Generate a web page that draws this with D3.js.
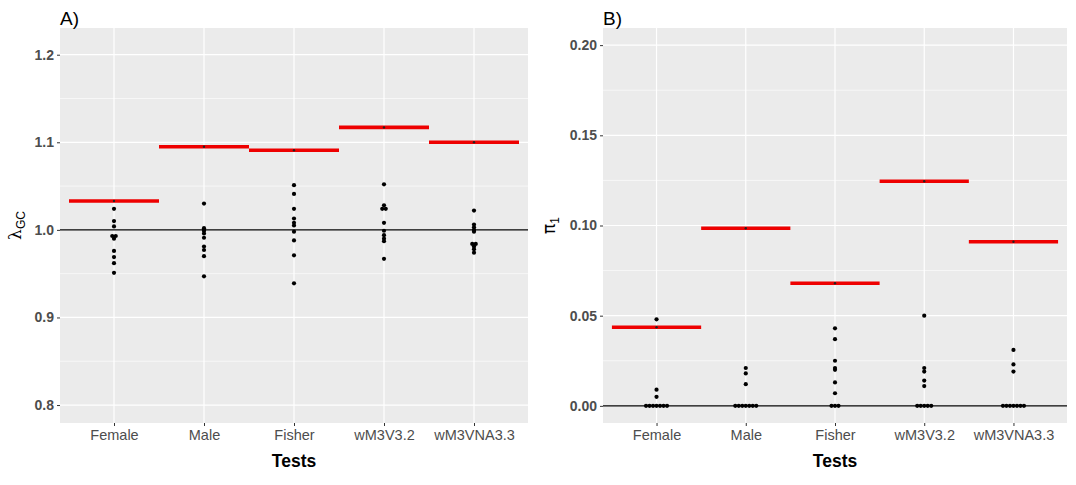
<!DOCTYPE html>
<html>
<head>
<meta charset="utf-8">
<script src="https://cdn.jsdelivr.net/npm/d3@7"></script>
<style>
  body { margin: 0; background: #fff; }
  text { font-family: "Liberation Sans", Arial, sans-serif; }
</style>
</head>
<body>
<svg id="chart" width="1076" height="485"></svg>
<script>
tests = ["Female", "Male", "Fisher", "wM3V3.2", "wM3VNA3.3"]

// lambda GC per test (one dot per run)
lambdaFemale = [1.024, 1.010, 1.004, 0.993, 0.993, 0.990, 0.976, 0.969, 0.962, 0.951]
lambdaMale = [1.030, 1.002, 0.999, 0.996, 0.991, 0.981, 0.977, 0.970, 0.947, 1.000]
lambdaFisher = [1.051, 1.041, 1.024, 1.013, 1.008, 1.005, 0.998, 0.988, 0.971, 0.939]
lambdaV32 = [1.052, 1.028, 1.024, 1.024, 1.008, 0.999, 0.994, 0.990, 0.987, 0.967]
lambdaVNA33 = [1.022, 1.006, 1.003, 1.000, 0.998, 0.984, 0.984, 0.981, 0.978, 0.974]
lambdaValues = [lambdaFemale, lambdaMale, lambdaFisher, lambdaV32, lambdaVNA33]
lambdaOverall = [1.033, 1.095, 1.091, 1.117, 1.100]

// pi1 per test
pi1Female = [0.048, 0.009, 0.005, 0, 0, 0, 0, 0, 0, 0]
pi1Male = [0.021, 0.018, 0.012, 0, 0, 0, 0, 0, 0, 0]
pi1Fisher = [0.043, 0.037, 0.025, 0.021, 0.020, 0.013, 0.007, 0, 0, 0]
pi1V32 = [0.050, 0.021, 0.019, 0.014, 0.011, 0, 0, 0, 0, 0]
pi1VNA33 = [0.031, 0.023, 0.019, 0, 0, 0, 0, 0, 0, 0]
pi1Values = [pi1Female, pi1Male, pi1Fisher, pi1V32, pi1VNA33]
pi1Overall = [0.0436, 0.0985, 0.068, 0.1245, 0.091]

lambdaTicks = [0.8, 0.9, 1.0, 1.1, 1.2]
lambdaMinor = [0.85, 0.95, 1.05, 1.15]
pi1Ticks = [0, 0.05, 0.10, 0.15, 0.20]
pi1Minor = [0.025, 0.075, 0.125, 0.175]

const svg = d3.select("#chart")

function draw_panel(opts) {
    const left = opts.left, right = opts.right, top = 28, bottom = 423
    const g = svg.append("g")

    // band of 1 unit per test, 0.6 unit padding each side like ggplot
    const x = d3.scalePoint().domain(tests).range([left, right]).padding(0.6)
    const step = x.step()
    const y = d3.scaleLinear().domain(opts.domain).range([bottom, top])

    g.append("rect")
        .attr("x", left).attr("y", top)
        .attr("width", right - left).attr("height", bottom - top)
        .attr("fill", "#ebebeb")

    g.selectAll(".minor").data(opts.minor).join("line")
        .attr("x1", left).attr("x2", right)
        .attr("y1", d => y(d)).attr("y2", d => y(d))
        .attr("stroke", "#fff").attr("stroke-width", 0.6)

    g.selectAll(".major").data(opts.ticks).join("line")
        .attr("x1", left).attr("x2", right)
        .attr("y1", d => y(d)).attr("y2", d => y(d))
        .attr("stroke", "#fff").attr("stroke-width", 1.2)

    g.selectAll(".vmajor").data(tests).join("line")
        .attr("x1", d => x(d)).attr("x2", d => x(d))
        .attr("y1", top).attr("y2", bottom)
        .attr("stroke", "#fff").attr("stroke-width", 1.2)

    // reference line
    g.append("line")
        .attr("x1", left).attr("x2", right)
        .attr("y1", y(opts.refLine)).attr("y2", y(opts.refLine))
        .attr("stroke", "#000").attr("stroke-width", 1.1)

    // overall value as red bar
    g.selectAll(".overall").data(tests).join("line")
        .attr("x1", d => x(d) - step / 2).attr("x2", d => x(d) + step / 2)
        .attr("y1", (d, i) => y(opts.overall[i])).attr("y2", (d, i) => y(opts.overall[i]))
        .attr("stroke", "#ee0000").attr("stroke-width", 3.6)
    g.selectAll(".overallpt").data(tests).join("circle")
        .attr("cx", d => x(d))
        .attr("cy", (d, i) => y(opts.overall[i]))
        .attr("r", 1.2).attr("fill", "#222")

    // dots, equal values stacked side by side (centered)
    let dots = []
    opts.values.forEach(function (vals, i) {
        const groups = d3.group(vals, v => v)
        for (const [v, arr] of groups) {
            arr.forEach(function (a, k) {
                dots.push({ test: tests[i], value: v, offset: (k - (arr.length - 1) / 2) * 3.5 })
            })
        }
    })
    g.selectAll(".dot").data(dots).join("circle")
        .attr("cx", d => x(d.test) + d.offset)
        .attr("cy", d => y(d.value))
        .attr("r", 2.1)
        .attr("fill", "#000")

    // axes
    const yAxis = g.append("g")
        .attr("transform", "translate(" + left + ",0)")
        .call(d3.axisLeft(y).tickValues(opts.ticks).tickFormat(opts.format).tickSize(3).tickPadding(3))
    yAxis.select(".domain").remove()
    yAxis.selectAll("line").attr("stroke", "#333")
    yAxis.selectAll("text").attr("fill", "#4d4d4d").attr("font-size", 14).attr("font-weight", "bold")
        .attr("font-family", "Liberation Sans, Arial, sans-serif")

    const xAxis = g.append("g")
        .attr("transform", "translate(0," + bottom + ")")
        .call(d3.axisBottom(x).tickSize(3).tickPadding(4))
    xAxis.select(".domain").remove()
    xAxis.selectAll("line").attr("stroke", "#333")
    xAxis.selectAll("text").attr("fill", "#4d4d4d").attr("font-size", 14.5)
        .attr("font-family", "Liberation Sans, Arial, sans-serif")

    g.append("text")
        .attr("x", (left + right) / 2).attr("y", 467)
        .attr("text-anchor", "middle")
        .attr("font-size", 17.5).attr("font-weight", "bold")
        .text("Tests")

    g.append("text")
        .attr("x", left).attr("y", 25)
        .attr("font-size", 19)
        .text(opts.title)

    const lab = g.append("text")
        .attr("transform", "translate(" + opts.labelX + "," + ((top + bottom) / 2) + ") rotate(-90)")
        .attr("text-anchor", "middle")
        .attr("font-size", 17)
    lab.append("tspan").attr("font-family", opts.symbolFont).text(opts.label[0])
    lab.append("tspan").attr("font-size", 12).attr("dy", 4).text(opts.label[1])
}

draw_panel({
    left: 60, right: 528, domain: [0.7795, 1.2305],
    ticks: lambdaTicks, minor: lambdaMinor, format: d3.format(".1f"),
    values: lambdaValues, overall: lambdaOverall, refLine: 1.0,
    title: "A)", label: ["\u03bb", "GC"], labelX: 21, symbolFont: "DejaVu Serif, serif"
})

draw_panel({
    left: 603, right: 1067, domain: [-0.0095, 0.2095],
    ticks: pi1Ticks, minor: pi1Minor, format: d3.format(".2f"),
    values: pi1Values, overall: pi1Overall, refLine: 0,
    title: "B)", label: ["\u03c0", "1"], labelX: 555, symbolFont: "DejaVu Sans, sans-serif"
})
</script>
</body>
</html>
